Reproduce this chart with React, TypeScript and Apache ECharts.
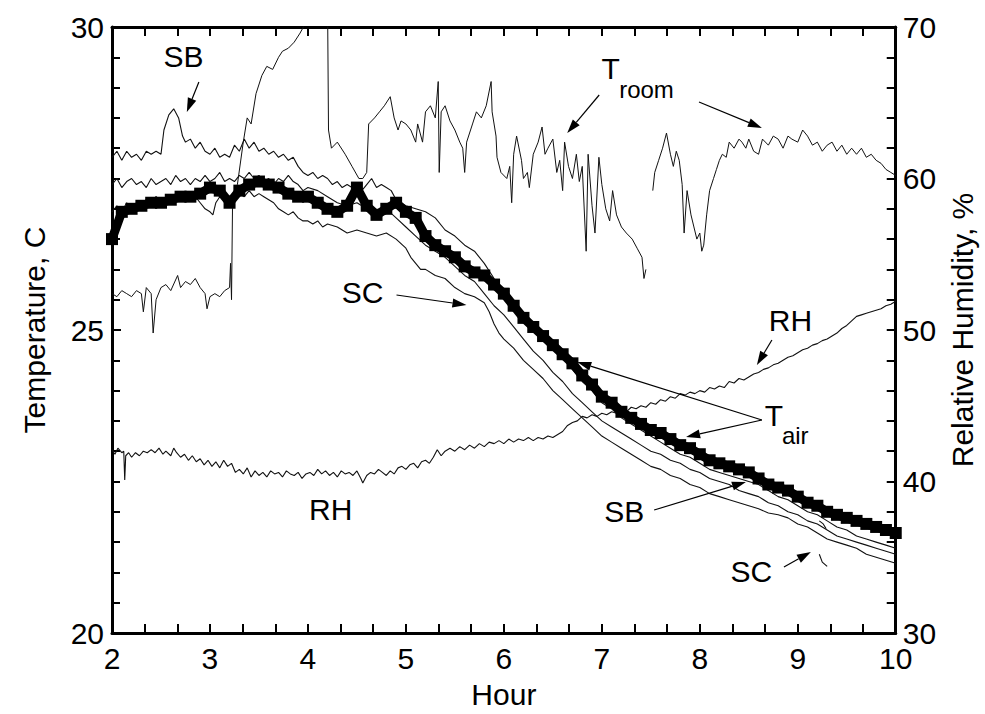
import React, { useEffect, useRef } from "react";
import * as echarts from "echarts";

// ---------- data (hour, value) ----------
const tAir: [number, number][] = [
  [2.0, 26.5], [2.1, 26.95], [2.2, 27.0], [2.3, 27.05], [2.4, 27.1], [2.5, 27.1], [2.6, 27.15], [2.7, 27.2],
  [2.8, 27.2], [2.9, 27.25], [3.0, 27.35], [3.1, 27.3], [3.2, 27.1], [3.3, 27.3], [3.4, 27.4], [3.5, 27.45],
  [3.6, 27.4], [3.7, 27.35], [3.8, 27.25], [3.9, 27.2], [4.0, 27.2], [4.1, 27.1], [4.2, 27.0], [4.3, 26.95],
  [4.4, 27.05], [4.5, 27.35], [4.6, 27.05], [4.7, 26.9], [4.8, 27.0], [4.9, 27.1], [5.0, 26.95], [5.1, 26.85],
  [5.2, 26.55], [5.3, 26.4], [5.4, 26.3], [5.5, 26.2], [5.6, 26.05], [5.7, 25.95], [5.8, 25.9], [5.9, 25.75],
  [6.0, 25.6], [6.1, 25.4], [6.2, 25.2], [6.3, 25.05], [6.4, 24.9], [6.5, 24.75], [6.6, 24.6], [6.7, 24.45],
  [6.8, 24.25], [6.9, 24.1], [7.0, 23.9], [7.1, 23.8], [7.2, 23.65], [7.3, 23.55], [7.4, 23.45], [7.5, 23.35],
  [7.6, 23.3], [7.7, 23.2], [7.8, 23.1], [7.9, 23.05], [8.0, 22.95], [8.1, 22.85], [8.2, 22.8], [8.3, 22.75],
  [8.4, 22.7], [8.5, 22.65], [8.6, 22.55], [8.7, 22.45], [8.8, 22.4], [8.9, 22.35], [9.0, 22.25], [9.1, 22.15],
  [9.2, 22.1], [9.3, 22.0], [9.4, 21.95], [9.5, 21.9], [9.6, 21.85], [9.7, 21.8], [9.8, 21.75], [9.9, 21.7],
  [10.0, 21.65],
];

const sbUpper: [number, number][] = [
  [2.0, 27.85], [2.05, 27.95], [2.1, 27.8], [2.15, 27.95], [2.2, 27.85], [2.25, 27.9], [2.3, 27.8], [2.35, 27.95],
  [2.4, 27.9], [2.45, 27.95], [2.5, 27.9], [2.53, 28.3], [2.58, 28.55], [2.63, 28.65], [2.68, 28.5], [2.72, 28.2],
  [2.75, 28.1], [2.8, 28.15], [2.85, 28.0], [2.9, 28.1], [2.95, 27.95], [3.0, 27.9], [3.05, 28.0], [3.1, 27.85],
  [3.15, 27.9], [3.2, 27.85], [3.25, 28.05], [3.3, 27.95], [3.35, 28.15], [3.4, 28.0], [3.45, 28.1], [3.5, 27.95],
  [3.55, 28.0], [3.6, 27.9], [3.65, 27.95], [3.7, 27.85], [3.75, 27.9], [3.8, 27.8], [3.85, 27.85], [3.9, 27.7],
  [3.95, 27.6], [4.0, 27.55], [4.05, 27.6], [4.1, 27.5], [4.15, 27.55], [4.2, 27.5], [4.25, 27.4], [4.3, 27.45],
  [4.35, 27.35], [4.4, 27.4], [4.45, 27.35], [4.5, 27.4], [4.55, 27.3], [4.6, 27.4], [4.65, 27.5], [4.7, 27.35],
  [4.75, 27.4], [4.8, 27.35], [4.85, 27.3], [4.9, 27.15], [5.0, 27.05], [5.1, 27.0], [5.2, 26.95], [5.3, 26.85],
  [5.4, 26.65], [5.5, 26.55], [5.6, 26.4], [5.7, 26.3], [5.8, 26.1], [5.9, 25.85], [6.0, 25.65], [6.1, 25.45],
  [6.2, 25.25], [6.3, 25.0], [6.4, 24.85], [6.5, 24.7], [6.6, 24.55], [6.7, 24.35], [6.8, 24.15], [6.9, 24.0],
  [7.0, 23.8], [7.1, 23.7], [7.2, 23.55], [7.3, 23.45], [7.4, 23.35], [7.5, 23.25], [7.6, 23.15], [7.7, 23.05],
  [7.8, 22.95], [7.9, 22.9], [8.0, 22.8], [8.1, 22.7], [8.2, 22.65], [8.3, 22.6], [8.4, 22.55], [8.5, 22.5],
  [8.6, 22.45], [8.7, 22.35], [8.8, 22.25], [8.9, 22.2], [9.0, 22.1], [9.1, 22.0], [9.2, 21.95], [9.3, 21.85],
  [9.4, 21.75], [9.5, 21.7], [9.6, 21.6], [9.7, 21.55], [9.8, 21.5], [9.9, 21.45], [10.0, 21.4],
];

const sbLower: [number, number][] = [
  [2.0, 27.4], [2.05, 27.5], [2.1, 27.35], [2.15, 27.45], [2.2, 27.5], [2.25, 27.4], [2.3, 27.45], [2.35, 27.35],
  [2.4, 27.5], [2.45, 27.4], [2.5, 27.45], [2.55, 27.5], [2.6, 27.4], [2.65, 27.55], [2.7, 27.45], [2.75, 27.5],
  [2.8, 27.4], [2.85, 27.5], [2.9, 27.45], [2.95, 27.55], [3.0, 27.45], [3.05, 27.5], [3.1, 27.6], [3.15, 27.45],
  [3.2, 27.5], [3.25, 27.45], [3.3, 27.55], [3.35, 27.5], [3.4, 27.6], [3.45, 27.5], [3.5, 27.55], [3.55, 27.45],
  [3.6, 27.5], [3.65, 27.4], [3.7, 27.5], [3.75, 27.45], [3.8, 27.55], [3.85, 27.45], [3.9, 27.4], [3.95, 27.3],
  [4.0, 27.35], [4.1, 27.3], [4.2, 27.2], [4.3, 27.1], [4.4, 27.05], [4.5, 27.1], [4.6, 27.0], [4.7, 26.95],
  [4.8, 27.0], [4.9, 26.85], [5.0, 26.7], [5.1, 26.55], [5.2, 26.4], [5.3, 26.3], [5.4, 26.2], [5.5, 26.05],
  [5.6, 25.9], [5.7, 25.8], [5.8, 25.6], [5.9, 25.4], [6.0, 25.25], [6.1, 25.05], [6.2, 24.85], [6.3, 24.65],
  [6.4, 24.5], [6.5, 24.3], [6.6, 24.15], [6.7, 23.95], [6.8, 23.8], [6.9, 23.65], [7.0, 23.5], [7.1, 23.4],
  [7.2, 23.3], [7.3, 23.2], [7.4, 23.1], [7.5, 23.0], [7.6, 22.95], [7.7, 22.85], [7.8, 22.8], [7.9, 22.7],
  [8.0, 22.65], [8.1, 22.55], [8.2, 22.5], [8.3, 22.45], [8.4, 22.35], [8.5, 22.3], [8.6, 22.25], [8.7, 22.15],
  [8.8, 22.1], [8.9, 22.0], [9.0, 21.95], [9.1, 21.85], [9.2, 21.8], [9.3, 21.7], [9.4, 21.6], [9.5, 21.55],
  [9.6, 21.5], [9.7, 21.45], [9.8, 21.4], [9.9, 21.35], [10.0, 21.3],
];

const scMain: [number, number][] = [
  [2.0, 26.95], [2.05, 27.05], [2.1, 26.95], [2.15, 27.1], [2.2, 27.0], [2.25, 27.1], [2.3, 27.05], [2.35, 27.15],
  [2.4, 27.1], [2.45, 27.2], [2.5, 27.1], [2.55, 27.2], [2.6, 27.15], [2.65, 27.25], [2.7, 27.2], [2.75, 27.15],
  [2.8, 27.25], [2.85, 27.2], [2.9, 27.1], [2.95, 27.0], [3.0, 26.95], [3.03, 26.9], [3.06, 27.1], [3.1, 27.2],
  [3.15, 27.15], [3.2, 27.1], [3.25, 27.2], [3.3, 27.25], [3.35, 27.2], [3.4, 27.3], [3.45, 27.2], [3.5, 27.25],
  [3.55, 27.2], [3.6, 27.15], [3.65, 27.1], [3.7, 27.0], [3.75, 26.95], [3.8, 26.9], [3.85, 26.95], [3.9, 26.85],
  [3.95, 26.8], [4.0, 26.8], [4.05, 26.75], [4.1, 26.8], [4.15, 26.7], [4.2, 26.75], [4.3, 26.7], [4.4, 26.6],
  [4.5, 26.65], [4.6, 26.6], [4.7, 26.55], [4.8, 26.6], [4.9, 26.5], [5.0, 26.35], [5.05, 26.2], [5.1, 26.1],
  [5.15, 26.0], [5.2, 26.0], [5.3, 25.9], [5.4, 25.85], [5.5, 25.7], [5.6, 25.6], [5.7, 25.55], [5.8, 25.45],
  [5.85, 25.3], [5.9, 25.1], [5.95, 24.95], [6.0, 24.85], [6.1, 24.7], [6.2, 24.5], [6.3, 24.35], [6.4, 24.2],
  [6.5, 24.0], [6.6, 23.85], [6.7, 23.7], [6.8, 23.55], [6.9, 23.4], [7.0, 23.25], [7.1, 23.15], [7.2, 23.05],
  [7.3, 22.95], [7.4, 22.85], [7.5, 22.75], [7.6, 22.7], [7.7, 22.6], [7.8, 22.55], [7.9, 22.45], [8.0, 22.4],
  [8.1, 22.3], [8.2, 22.25], [8.3, 22.2], [8.4, 22.15], [8.5, 22.1], [8.6, 22.05], [8.7, 21.98], [8.8, 21.95],
  [8.9, 21.9], [9.0, 21.8], [9.1, 21.75], [9.2, 21.65], [9.3, 21.55], [9.4, 21.5], [9.5, 21.45], [9.6, 21.4],
  [9.7, 21.3], [9.8, 21.25], [9.9, 21.2], [10.0, 21.15],
];

const scPiece: ([number, number] | null)[] = [
  [9.22, 21.85], [9.26, 21.8], [9.29, 21.72], null, [9.22, 21.3], [9.25, 21.17], [9.3, 21.1],
];

const tRoom: ([number, number] | null)[] = [
  [2.0, 25.6], [2.05, 25.55], [2.1, 25.65], [2.15, 25.6], [2.2, 25.55], [2.25, 25.65], [2.3, 25.6], [2.32, 25.3],
  [2.35, 25.7], [2.4, 25.6], [2.42, 24.95], [2.45, 25.5], [2.5, 25.7], [2.55, 25.75], [2.6, 25.65], [2.67, 25.9],
  [2.7, 25.7], [2.75, 25.8], [2.8, 25.75], [2.85, 25.85], [2.9, 25.7], [2.95, 25.6], [2.97, 25.35], [3.0, 25.55],
  [3.05, 25.6], [3.1, 25.55], [3.15, 25.65], [3.2, 25.7], [3.21, 26.1], [3.22, 25.5], [3.23, 27.0], [3.28, 27.4],
  [3.34, 28.1], [3.38, 28.5], [3.42, 28.4], [3.47, 28.9], [3.53, 29.2], [3.58, 29.35], [3.64, 29.3], [3.7, 29.5],
  [3.74, 29.6], [3.8, 29.65], [3.86, 29.75], [3.92, 29.9], [3.97, 30.05], [4.05, 30.3], [4.15, 30.5], [4.2, 30.5],
  [4.21, 28.3], [4.24, 28.0], [4.3, 28.1], [4.38, 27.9], [4.45, 27.7], [4.52, 27.5], [4.56, 27.5], [4.6, 27.6],
  [4.62, 28.4], [4.68, 28.5], [4.73, 28.6], [4.78, 28.7], [4.84, 28.85], [4.88, 28.5], [4.92, 28.3], [4.95, 28.45],
  [5.0, 28.4], [5.05, 28.3], [5.1, 28.1], [5.12, 28.4], [5.17, 28.1], [5.2, 28.6], [5.25, 28.7], [5.3, 28.5],
  [5.33, 29.1], [5.34, 27.6], [5.36, 28.6], [5.4, 28.7], [5.45, 28.45], [5.5, 28.3], [5.55, 28.1], [5.58, 28.0],
  [5.6, 27.6], [5.62, 28.1], [5.68, 28.4], [5.72, 28.6], [5.77, 28.5], [5.82, 28.7], [5.87, 29.1], [5.88, 28.6],
  [5.92, 28.2], [5.93, 27.85], [5.97, 27.6], [6.03, 27.5], [6.06, 27.7], [6.08, 27.1], [6.1, 27.9], [6.13, 28.2],
  [6.18, 27.8], [6.2, 27.5], [6.24, 27.6], [6.26, 27.35], [6.3, 27.9], [6.35, 28.1], [6.39, 28.35], [6.42, 27.9],
  [6.45, 28.0], [6.5, 28.15], [6.54, 27.6], [6.57, 27.8], [6.6, 27.3], [6.62, 28.1], [6.66, 27.7], [6.7, 27.5],
  [6.74, 27.9], [6.77, 27.45], [6.8, 27.7], [6.84, 26.3], [6.86, 27.9], [6.9, 27.05], [6.93, 26.6], [6.97, 27.85],
  [7.0, 27.4], [7.04, 27.0], [7.08, 26.8], [7.11, 27.3], [7.15, 26.9], [7.2, 26.7], [7.25, 26.6], [7.31, 26.5],
  [7.36, 26.35], [7.41, 26.2], [7.43, 25.85], [7.45, 26.0], null,
  [7.52, 27.3], [7.54, 27.6], [7.58, 27.8], [7.62, 28.0], [7.66, 28.25], [7.7, 27.9], [7.73, 27.7], [7.76, 27.95],
  [7.79, 27.8], [7.82, 27.4], [7.84, 26.6], [7.87, 27.3], [7.91, 26.9], [7.94, 26.7], [7.97, 26.5], [8.0, 26.6],
  [8.02, 26.3], [8.04, 26.4], [8.07, 26.9], [8.1, 27.3], [8.14, 27.5], [8.17, 27.65], [8.2, 27.8], [8.23, 27.9],
  [8.27, 27.85], [8.3, 28.1], [8.35, 28.0], [8.4, 28.15], [8.43, 28.1], [8.47, 28.0], [8.5, 28.15], [8.55, 27.95],
  [8.6, 27.9], [8.64, 28.15], [8.7, 28.05], [8.75, 28.2], [8.8, 28.15], [8.85, 28.0], [8.9, 28.2], [8.94, 28.15],
  [9.0, 28.1], [9.05, 28.3], [9.1, 28.2], [9.15, 28.05], [9.2, 28.1], [9.25, 27.95], [9.3, 28.05], [9.35, 28.1],
  [9.4, 27.95], [9.45, 28.05], [9.5, 27.9], [9.55, 28.0], [9.6, 27.9], [9.65, 28.0], [9.7, 27.85], [9.75, 27.9],
  [9.8, 27.8], [9.85, 27.75], [9.9, 27.65], [9.95, 27.6], [10.0, 27.55],
];

const rh: [number, number][] = [
  [2.0, 42.1], [2.03, 41.8], [2.06, 42.2], [2.1, 41.9], [2.12, 42.0], [2.13, 40.1], [2.14, 41.7], [2.17, 41.9],
  [2.2, 41.6], [2.24, 41.9], [2.28, 41.7], [2.32, 42.0], [2.36, 41.9], [2.4, 42.1], [2.44, 41.9], [2.48, 42.2],
  [2.52, 41.8], [2.55, 42.0], [2.6, 41.7], [2.63, 42.2], [2.66, 41.9], [2.7, 41.6], [2.74, 41.8], [2.78, 41.4],
  [2.82, 41.7], [2.86, 41.3], [2.9, 41.5], [2.94, 41.1], [2.98, 41.4], [3.02, 41.0], [3.06, 41.3], [3.1, 40.9],
  [3.14, 41.4], [3.18, 41.0], [3.22, 41.2], [3.26, 40.6], [3.3, 40.8], [3.34, 40.5], [3.38, 40.9], [3.42, 40.3],
  [3.46, 40.7], [3.5, 40.4], [3.54, 40.6], [3.58, 40.3], [3.62, 40.7], [3.66, 40.5], [3.7, 40.6], [3.74, 40.3],
  [3.78, 40.7], [3.82, 40.5], [3.86, 40.4], [3.9, 40.6], [3.94, 40.2], [3.98, 40.5], [4.02, 40.6], [4.06, 40.4],
  [4.1, 40.8], [4.14, 40.5], [4.18, 40.7], [4.22, 40.4], [4.26, 40.6], [4.3, 40.3], [4.34, 40.7], [4.38, 40.5],
  [4.42, 40.6], [4.46, 40.4], [4.5, 40.7], [4.54, 40.2], [4.56, 39.9], [4.6, 40.4], [4.64, 40.6], [4.68, 40.5],
  [4.72, 40.8], [4.76, 40.6], [4.8, 40.4], [4.84, 40.7], [4.88, 40.5], [4.92, 40.9], [4.96, 41.0], [5.0, 40.8],
  [5.04, 41.1], [5.08, 41.2], [5.12, 40.9], [5.16, 41.3], [5.2, 41.4], [5.24, 41.2], [5.28, 41.6], [5.32, 42.1],
  [5.36, 41.7], [5.4, 42.0], [5.45, 42.2], [5.5, 42.0], [5.55, 42.3], [5.6, 42.1], [5.65, 42.4], [5.7, 42.2],
  [5.75, 42.5], [5.8, 42.3], [5.85, 42.6], [5.9, 42.5], [5.95, 42.7], [6.0, 42.5], [6.05, 42.8], [6.1, 42.6],
  [6.15, 42.8], [6.2, 42.7], [6.25, 42.9], [6.3, 42.7], [6.35, 42.9], [6.4, 42.8], [6.45, 43.0], [6.5, 42.9],
  [6.55, 43.1], [6.6, 43.3], [6.65, 43.7], [6.7, 43.9], [6.75, 44.0], [6.8, 44.3], [6.85, 44.2], [6.9, 44.4],
  [6.95, 44.3], [7.0, 44.5], [7.05, 44.4], [7.1, 44.6], [7.15, 44.5], [7.2, 44.7], [7.25, 44.6], [7.3, 44.9],
  [7.35, 44.8], [7.4, 45.0], [7.45, 44.9], [7.5, 45.2], [7.55, 45.1], [7.6, 45.4], [7.65, 45.3], [7.7, 45.6],
  [7.75, 45.5], [7.8, 45.8], [7.85, 45.7], [7.9, 45.9], [7.95, 45.8], [8.0, 46.0], [8.05, 45.9], [8.1, 46.2],
  [8.15, 46.1], [8.2, 46.3], [8.25, 46.2], [8.3, 46.6], [8.35, 46.5], [8.4, 46.8], [8.45, 46.7], [8.5, 46.9],
  [8.55, 47.1], [8.6, 47.2], [8.65, 47.4], [8.7, 47.5], [8.75, 47.7], [8.8, 47.8], [8.85, 48.0], [8.9, 48.2],
  [8.95, 48.3], [9.0, 48.5], [9.05, 48.7], [9.1, 48.8], [9.15, 49.0], [9.2, 49.1], [9.25, 49.3], [9.3, 49.4],
  [9.35, 49.6], [9.4, 49.8], [9.45, 50.1], [9.5, 50.3], [9.55, 50.6], [9.6, 50.9], [9.65, 51.0], [9.7, 51.1],
  [9.75, 51.2], [9.8, 51.3], [9.85, 51.4], [9.9, 51.6], [9.95, 51.7], [10.0, 51.9],
];

// ---------- annotations (in data coordinates: hour, temperature) ----------
type Label = { text: string; at: [number, number]; size?: number; align?: string };
const annotationLabels: Label[] = [
  { text: "SB", at: [2.729, 29.521] },
  { text: "SC", at: [4.558, 25.627] },
  { text: "T", at: [7.09, 29.315] },
  { text: "room", at: [7.177, 28.969], size: 24, align: "left" },
  { text: "RH", at: [8.925, 25.165] },
  { text: "RH", at: [4.232, 22.03] },
  { text: "T", at: [8.757, 23.597] },
  { text: "air", at: [8.838, 23.267], size: 24, align: "left" },
  { text: "SB", at: [7.228, 22.005] },
  { text: "SC", at: [8.527, 21.015] },
];
const annotationArrows: [[number, number], [number, number]][] = [
  [[2.887, 29.093], [2.764, 28.597]],
  [[4.904, 25.578], [5.618, 25.413]],
  [[6.973, 28.878], [6.647, 28.251]],
  [[7.992, 28.762], [8.634, 28.333]],
  [[8.736, 24.835], [8.583, 24.422]],
  [[8.634, 23.515], [6.749, 24.472]],
  [[8.634, 23.515], [7.86, 23.234]],
  [[7.534, 22.03], [8.471, 22.492]],
  [[8.859, 21.089], [9.134, 21.337]],
];

const FONT = '"Liberation Sans", Arial, Helvetica, sans-serif';

function axisBase(extra: any) {
  return {
    type: "value",
    axisLine: { show: true, onZero: false, lineStyle: { color: "#000", width: 3 } },
    axisTick: { show: true, inside: true, length: 9, lineStyle: { color: "#000", width: 2 } },
    minorTick: { show: true, length: 9, lineStyle: { color: "#000", width: 2 } },
    splitLine: { show: false },
    axisLabel: { color: "#000", fontSize: 30, fontFamily: FONT },
    nameTextStyle: { color: "#000", fontSize: 30, fontFamily: FONT },
    ...extra,
  };
}

export default function App() {
  const ref = useRef<HTMLDivElement>(null);
  useEffect(() => {
    if (!ref.current) return;
    const chart = echarts.init(ref.current, null, { renderer: "svg" });
    const thin = { color: "#111", width: 1.1 };
    const option: any = {
      animation: false,
      backgroundColor: "#fff",
      grid: { left: 112, right: 87, top: 27, bottom: 81 },
      xAxis: [
        axisBase({
          min: 2, max: 10, interval: 1, position: "bottom",
          minorTick: { show: true, splitNumber: 3, length: 9, lineStyle: { color: "#000", width: 2 } },
          axisLabel: { color: "#000", fontSize: 30, fontFamily: FONT, margin: 10 },
          name: "Hour", nameLocation: "middle", nameGap: 46,
        }),
        axisBase({
          min: 2, max: 10, interval: 1, position: "top",
          minorTick: { show: true, splitNumber: 3, length: 9, lineStyle: { color: "#000", width: 2 } },
          axisLabel: { show: false },
        }),
      ],
      yAxis: [
        axisBase({
          min: 20, max: 30, interval: 5, position: "left",
          minorTick: { show: true, splitNumber: 10, length: 8, lineStyle: { color: "#000", width: 2 } },
          axisLabel: { color: "#000", fontSize: 30, fontFamily: FONT, margin: 8 },
          name: "Temperature, C", nameLocation: "middle", nameGap: 63,
        }),
        axisBase({
          min: 30, max: 70, interval: 10, position: "right",
          minorTick: { show: true, splitNumber: 5, length: 9, lineStyle: { color: "#000", width: 2 } },
          axisLabel: { color: "#000", fontSize: 30, fontFamily: FONT, margin: 7 },
          name: "Relative Humidity, %", nameLocation: "middle", nameGap: 47,
        }),
      ],
      series: [
        { name: "Tair", type: "line", data: tAir, xAxisIndex: 0, yAxisIndex: 0, symbol: "rect", symbolSize: 12,
          itemStyle: { color: "#000" }, lineStyle: { color: "#000", width: 9 }, z: 5 },
        { name: "SB upper", type: "line", data: sbUpper, showSymbol: false, lineStyle: thin, z: 3 },
        { name: "SB lower", type: "line", data: sbLower, showSymbol: false, lineStyle: thin, z: 3 },
        { name: "SC", type: "line", data: scMain, showSymbol: false, lineStyle: thin, z: 3 },
        { name: "SC piece", type: "line", data: scPiece, showSymbol: false, connectNulls: false, lineStyle: thin, z: 3 },
        { name: "Troom", type: "line", data: tRoom, showSymbol: false, connectNulls: false,
          lineStyle: { color: "#111", width: 1 }, z: 3 },
        { name: "RH", type: "line", data: rh, yAxisIndex: 1, showSymbol: false, lineStyle: thin, z: 3 },
      ],
    };
    chart.setOption(option);

    const toPx = (p: [number, number]) => chart.convertToPixel({ seriesIndex: 0 }, p) as number[];
    const graphics: any[] = [];
    annotationLabels.forEach((l) => {
      const [x, y] = toPx(l.at);
      graphics.push({
        type: "text", x, y, z: 10,
        style: {
          text: l.text, fontSize: l.size ?? 30, fontFamily: FONT, fill: "#000",
          align: l.align ?? "center", verticalAlign: "middle",
        },
      });
    });
    annotationArrows.forEach(([a, b]) => {
      const [x1, y1] = toPx(a);
      const [x2, y2] = toPx(b);
      const dx = x2 - x1, dy = y2 - y1;
      const len = Math.sqrt(dx * dx + dy * dy);
      const ux = dx / len, uy = dy / len;
      const hl = 14, hw = 4.5;
      const bx = x2 - ux * hl, by = y2 - uy * hl;
      graphics.push({
        type: "line", z: 10,
        shape: { x1, y1, x2: bx, y2: by },
        style: { stroke: "#000", lineWidth: 1.2 },
      });
      graphics.push({
        type: "polygon", z: 10,
        shape: { points: [[x2, y2], [bx - uy * hw, by + ux * hw], [bx + uy * hw, by - ux * hw]] },
        style: { fill: "#000" },
      });
    });
    chart.setOption({ graphic: graphics });

    return () => chart.dispose();
  }, []);
  return <div ref={ref} style={{ position: "fixed", left: 0, top: 0, width: 985, height: 714, background: "#fff" }} />;
}
